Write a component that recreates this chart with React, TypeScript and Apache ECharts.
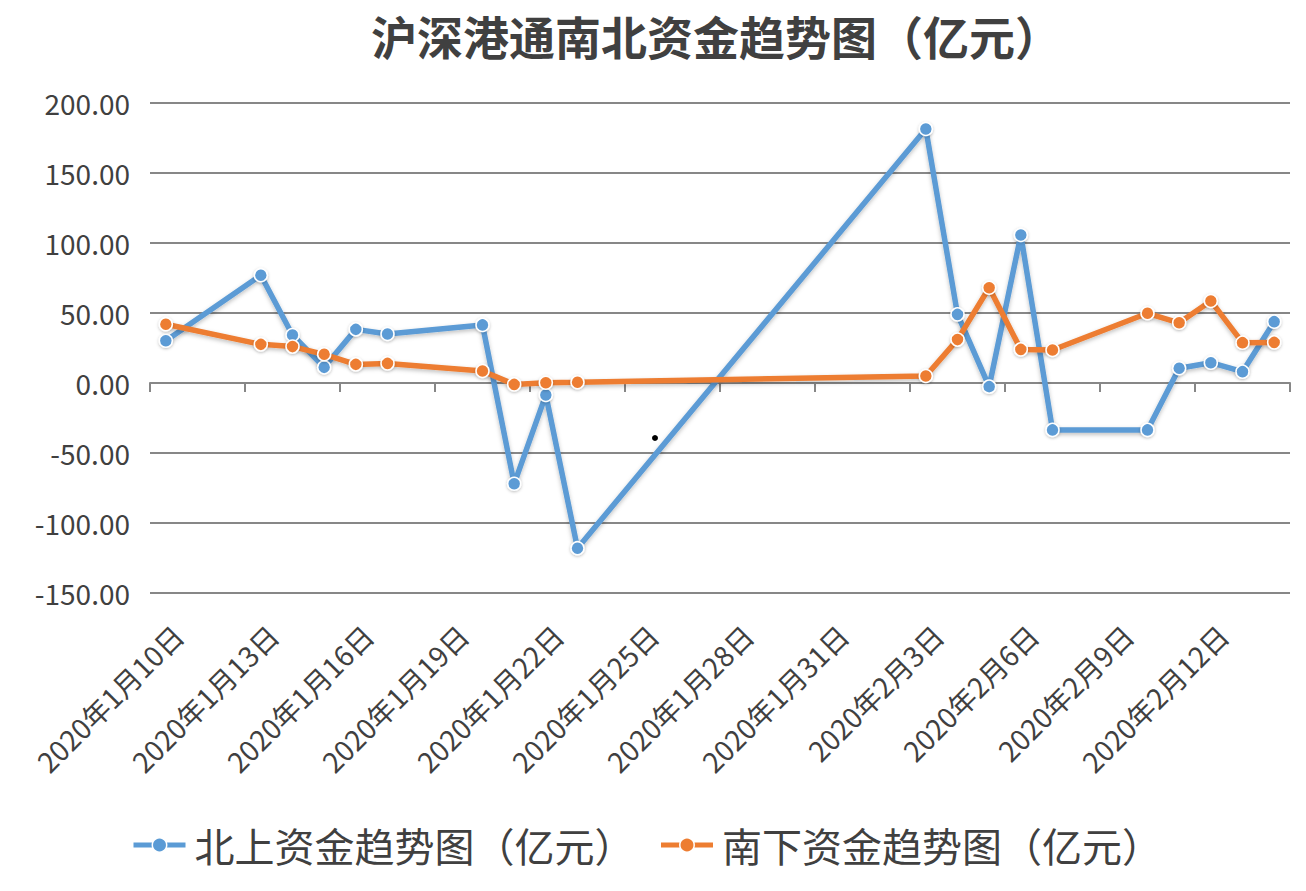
import React, { useEffect, useRef } from "react";
import * as echarts from "echarts";

const TITLE = "沪深港通南北资金趋势图（亿元）";
const NORTH_NAME = "北上资金趋势图（亿元）";
const SOUTH_NAME = "南下资金趋势图（亿元）";

const AXIS_START = "2020-01-10";
const AXIS_END = "2020-02-14";

const dataDates = [
  "2020-01-10", "2020-01-13", "2020-01-14", "2020-01-15", "2020-01-16",
  "2020-01-17", "2020-01-20", "2020-01-21", "2020-01-22", "2020-01-23",
  "2020-02-03", "2020-02-04", "2020-02-05", "2020-02-06", "2020-02-07",
  "2020-02-10", "2020-02-11", "2020-02-12", "2020-02-13", "2020-02-14",
];
const northValues = [
  30.2, 77.0, 34.3, 11.2, 38.3, 35.0, 41.5, -72.0, -8.5, -118.0,
  181.4, 49.0, -2.6, 105.7, -33.5, -33.5, 10.5, 14.5, 8.1, 43.8,
];
const southValues = [
  42.0, 27.6, 26.0, 20.5, 13.3, 14.0, 8.6, -1.0, 0.2, 0.5,
  5.0, 31.0, 68.0, 24.0, 23.6, 49.8, 43.0, 58.6, 28.8, 29.0,
];

const yMin = -150;
const yMax = 200;
const yInterval = 50;

function buildCategories(start: string, end: string): string[] {
  const out: string[] = [];
  const d = new Date(start + "T00:00:00Z");
  const e = new Date(end + "T00:00:00Z");
  while (d.getTime() <= e.getTime()) {
    const y = d.getUTCFullYear();
    const m = String(d.getUTCMonth() + 1).padStart(2, "0");
    const day = String(d.getUTCDate()).padStart(2, "0");
    out.push(`${y}-${m}-${day}`);
    d.setUTCDate(d.getUTCDate() + 1);
  }
  return out;
}

function fmtDate(s: string): string {
  const [y, m, d] = s.split("-");
  return `${y}年${parseInt(m, 10)}月${parseInt(d, 10)}日`;
}

const FONT = "'Noto Sans CJK SC', 'Noto Sans', sans-serif";
const TEXT = "#404040";
const GRID = "#878787";
const BLUE = "#5B9BD5";
const ORANGE = "#ED7D31";

export default function App() {
  const ref = useRef<HTMLDivElement>(null);
  useEffect(() => {
    if (!ref.current) return;
    const chart = echarts.init(ref.current, undefined, { renderer: "svg" });
    const categories = buildCategories(AXIS_START, AXIS_END);
    const mapSeries = (vals: number[]) =>
      categories.map((c) => {
        const i = dataDates.indexOf(c);
        return i >= 0 ? vals[i] : null;
      });

    const lineSeries = (name: string, color: string, vals: number[]) => ({
      name,
      type: "line",
      xAxisIndex: 0,
      yAxisIndex: 0,
      data: mapSeries(vals),
      connectNulls: true,
      symbol: "circle",
      symbolSize: 13,
      showAllSymbol: true,
      lineStyle: {
        color,
        width: 5.5,
        shadowColor: "rgba(0,0,0,0.25)",
        shadowBlur: 4,
        shadowOffsetY: 2,
      },
      itemStyle: {
        color,
        borderColor: "#ffffff",
        borderWidth: 1.5,
        shadowColor: "rgba(0,0,0,0.25)",
        shadowBlur: 3,
        shadowOffsetY: 1,
      },
      emphasis: { disabled: true },
    });

    chart.setOption({
      animation: false,
      backgroundColor: "#ffffff",
      title: {
        text: TITLE,
        left: 366,
        top: 7,
        textStyle: {
          fontFamily: FONT,
          fontSize: 46,
          fontWeight: "bold",
          color: TEXT,
        },
      },
      legend: {
        left: 126,
        top: 820,
        itemWidth: 52,
        itemHeight: 18,
        itemGap: 24,
        data: [NORTH_NAME, SOUTH_NAME],
        lineStyle: { width: 5, shadowBlur: 0 },
        itemStyle: { borderWidth: 1.5, borderColor: "#ffffff", shadowBlur: 0 },
        textStyle: { fontFamily: FONT, fontSize: 40, color: TEXT, padding: [0, 0, 0, 4] },
      },
      grid: [
        { left: 150, right: 16, top: 103, bottom: 298, containLabel: false },
        { left: 162, right: 4, top: 103, bottom: 298, containLabel: false },
      ],
      xAxis: [
        {
          type: "category",
          gridIndex: 0,
          data: categories,
          boundaryGap: true,
          axisLine: { onZero: true, lineStyle: { color: GRID, width: 2 } },
          axisTick: { show: true, interval: 2, length: 9, lineStyle: { color: GRID, width: 2 } },
          axisLabel: { show: false },
          splitLine: { show: false },
        },
        {
          type: "category",
          gridIndex: 1,
          data: categories,
          boundaryGap: true,
          position: "bottom",
          axisLine: { show: false, onZero: false },
          axisTick: { show: false },
          splitLine: { show: false },
          axisLabel: {
            interval: 2,
            rotate: 45,
            margin: 37,
            fontFamily: FONT,
            fontSize: 28,
            color: TEXT,
            formatter: (v: string) => fmtDate(v),
          },
        },
      ],
      yAxis: [
        {
          type: "value",
          gridIndex: 0,
          min: yMin,
          max: yMax,
          interval: yInterval,
          axisLine: { show: false },
          axisTick: { show: false },
          axisLabel: {
            margin: 20,
            fontFamily: FONT,
            fontSize: 28,
            color: TEXT,
            formatter: (v: number) => v.toFixed(2),
          },
          splitLine: { lineStyle: { color: GRID, width: 2 } },
        },
        {
          type: "value",
          gridIndex: 1,
          min: yMin,
          max: yMax,
          interval: yInterval,
          show: false,
          splitLine: { show: false },
        },
      ],
      graphic: [
        { type: "circle", shape: { cx: 655, cy: 438, r: 3 }, style: { fill: "#000000" } },
      ],
      series: [
        lineSeries(NORTH_NAME, BLUE, northValues),
        lineSeries(SOUTH_NAME, ORANGE, southValues),
      ],
    });
    return () => chart.dispose();
  }, []);
  return (
    <div
      ref={ref}
      style={{ position: "fixed", left: 0, top: 0, width: 1306, height: 891 }}
    />
  );
}
